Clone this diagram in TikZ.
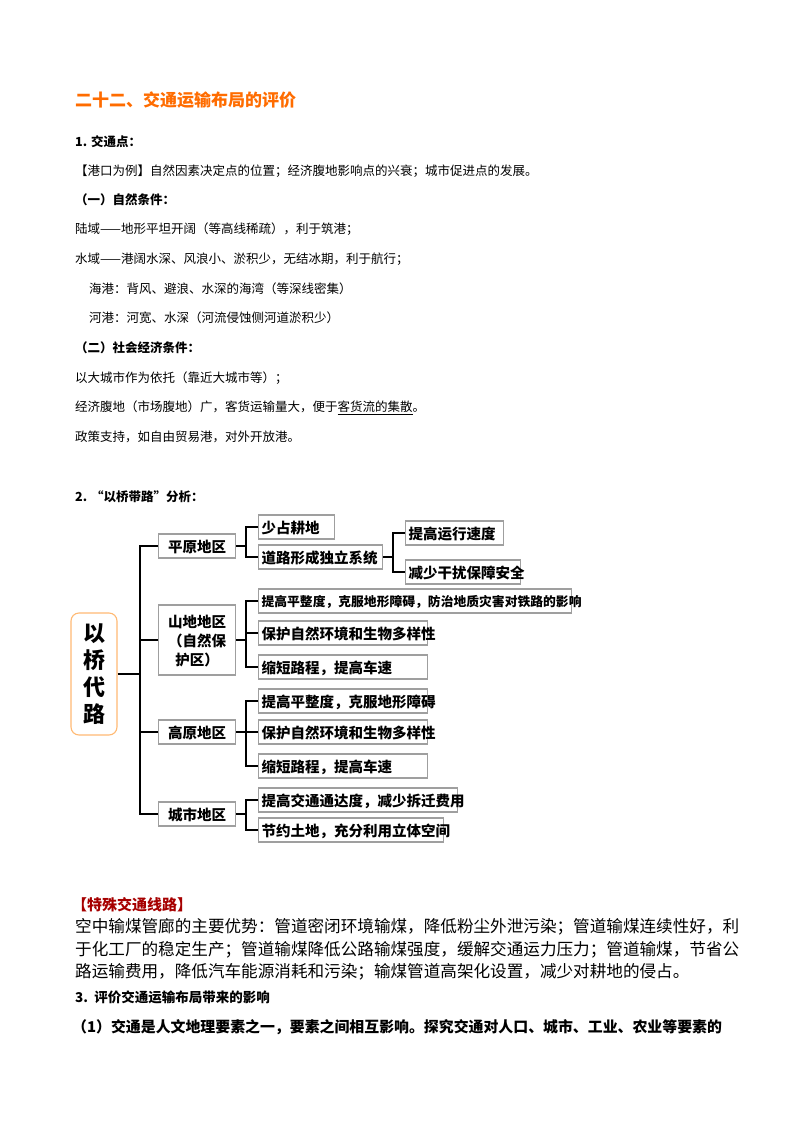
\documentclass[tikz,border=0pt]{standalone}
\usepackage{fontspec}
\setmainfont{Noto Sans CJK SC}
\begin{document}
\begin{tikzpicture}[x=1pt,y=-1pt,
  txt/.style={anchor=west,inner sep=0pt,font=\fontsize{12.5}{14}\selectfont},
  btxt/.style={anchor=west,inner sep=0pt,font=\fontsize{12.5}{14}\selectfont\bfseries},
  ptxt/.style={anchor=west,inner sep=0pt,font=\fontsize{16.6}{18}\selectfont},
  bx/.style={draw=gray!75,line width=1.1pt,anchor=west,inner sep=0pt,font=\fontsize{14.5}{16}\selectfont\bfseries,minimum height=24pt,text depth=0pt,align=left},
  lk/.style={line width=1.2pt,black}]
\useasboundingbox (0,0) rectangle (800,1132);
\node[anchor=west,inner sep=0pt,text=orange!85!red,font=\fontsize{17}{19}\selectfont\bfseries] (t) at (75,100) {二十二、交通运输布局的评价};
\node[btxt] (h1) at (75,142) {1. 交通点：};
\node[txt] (l1) at (75,171) {【港口为例】自然因素决定点的位置；经济腹地影响点的兴衰；城市促进点的发展。};
\node[btxt] (l2) at (75,200) {（一）自然条件：};
\node[txt] (l3) at (75,229) {陆域——地形平坦开阔（等高线稀疏），利于筑港；};
\node[txt] (l4) at (75,259) {水域——港阔水深、风浪小、淤积少，无结冰期，利于航行；};
\node[txt] (l5) at (89,289) {海港：背风、避浪、水深的海湾（等深线密集）};
\node[txt] (l6) at (89,318) {河港：河宽、水深（河流侵蚀侧河道淤积少）};
\node[btxt] (l7) at (75,348) {（二）社会经济条件：};
\node[txt] (l8) at (75,378) {以大城市作为依托（靠近大城市等）；};
\node[txt] (l9) at (75,408) {经济腹地（市场腹地）广，客货运输量大，便于\underline{客货流的集散}。};
\node[txt] (l10) at (75,437) {政策支持，如自由贸易港，对外开放港。};
\node[btxt] (h2) at (75,497) {2. “以桥带路”分析：};
% tree
\node[draw=orange!55,line width=1.1pt,rounded corners=8pt,minimum width=46pt,minimum height=122pt,inner sep=0pt,align=center,font=\fontsize{22}{27}\selectfont\bfseries] (root) at (94,674) {以\\桥\\代\\路};
\coordinate (tr) at (140,674);
\node[bx,minimum width=77pt,align=center] (a1) at (158,546) {平原地区};
\node[bx,minimum width=77pt,minimum height=70pt,align=center,font=\fontsize{14.5}{19}\selectfont\bfseries] (a2) at (158,640) {山地地区\\（自然保\\护区）};
\node[bx,minimum width=77pt,align=center] (a3) at (158,732) {高原地区};
\node[bx,minimum width=77pt,align=center] (a4) at (158,814) {城市地区};
\draw[lk] (root.east) -- (tr);
\draw[lk] (a1.west) -- (140,546) -- (140,814) -- (a4.west);
\draw[lk] (a2.west) -- (140,640);
\draw[lk] (a3.west) -- (140,732);
% children
\node[bx,minimum width=76pt,text width=70pt,inner xsep=3pt] (b1) at (258,527) {少占耕地};
\node[bx,minimum width=124pt,text width=118pt,inner xsep=3pt] (b2) at (258,557) {道路形成独立系统};
\node[bx,minimum width=98pt,text width=92pt,inner xsep=3pt] (c1) at (405,533) {提高运行速度};
\node[bx,minimum width=115pt,text width=109pt,inner xsep=3pt] (c2) at (405,572) {减少干扰保障安全};
\node[bx,minimum width=313pt,text width=307pt,inner xsep=3pt,font=\fontsize{12.8}{14}\selectfont\bfseries] (d1) at (258,601) {提高平整度，克服地形障碍，防治地质灾害对铁路的影响};
\node[bx,minimum width=169pt,text width=163pt,inner xsep=3pt] (d2) at (258,633) {保护自然环境和生物多样性};
\node[bx,minimum width=169pt,text width=163pt,inner xsep=3pt] (d3) at (258,667) {缩短路程，提高车速};
\node[bx,minimum width=169pt,text width=163pt,inner xsep=3pt] (e1) at (258,701) {提高平整度，克服地形障碍};
\node[bx,minimum width=169pt,text width=163pt,inner xsep=3pt] (e2) at (258,732) {保护自然环境和生物多样性};
\node[bx,minimum width=169pt,text width=163pt,inner xsep=3pt] (e3) at (258,766) {缩短路程，提高车速};
\node[bx,minimum width=199pt,text width=193pt,inner xsep=3pt] (f1) at (258,800) {提高交通通达度，减少拆迁费用};
\node[bx,minimum width=185pt,text width=179pt,inner xsep=3pt] (f2) at (258,830) {节约土地，充分利用立体空间};
\draw[lk] (a1.east) -- (246,546);
\draw[lk] (b1.west) -- (246,527) -- (246,557) -- (b2.west);
\draw[lk] (b2.east) -- (393,557);
\draw[lk] (c1.west) -- (393,533) -- (393,572) -- (c2.west);
\draw[lk] (a2.east) -- (246,640);
\draw[lk] (d1.west) -- (246,601) -- (246,667) -- (d3.west);
\draw[lk] (d2.west) -- (246,633);
\draw[lk] (a3.east) -- (246,732);
\draw[lk] (e1.west) -- (246,701) -- (246,766) -- (e3.west);
\draw[lk] (e2.west) -- (246,732);
\draw[lk] (a4.east) -- (246,814);
\draw[lk] (f1.west) -- (246,800) -- (246,830) -- (f2.west);
% bottom
\node[anchor=west,inner sep=0pt,text=red!65!black,font=\fontsize{15}{17}\selectfont\bfseries] (s) at (72,905) {【特殊交通线路】};
\node[ptxt] (p1) at (75,927) {空中输煤管廊的主要优势：管道密闭环境输煤，降低粉尘外泄污染；管道输煤连续性好，利};
\node[ptxt] (p2) at (75,950) {于化工厂的稳定生产；管道输煤降低公路输煤强度，缓解交通运力压力；管道输煤，节省公};
\node[ptxt] (p3) at (75,972) {路运输费用，降低汽车能源消耗和污染；输煤管道高架化设置，减少对耕地的侵占。};
\node[anchor=west,inner sep=0pt,font=\fontsize{13.5}{15}\selectfont\bfseries] (h3) at (75,997) {3.\ \ 评价交通运输布局带来的影响};
\node[anchor=west,inner sep=0pt,font=\fontsize{14.9}{16}\selectfont\bfseries] (q) at (72,1027) {（1）交通是人文地理要素之一，要素之间相互影响。探究交通对人口、城市、工业、农业等要素的};
\end{tikzpicture}
\end{document}
